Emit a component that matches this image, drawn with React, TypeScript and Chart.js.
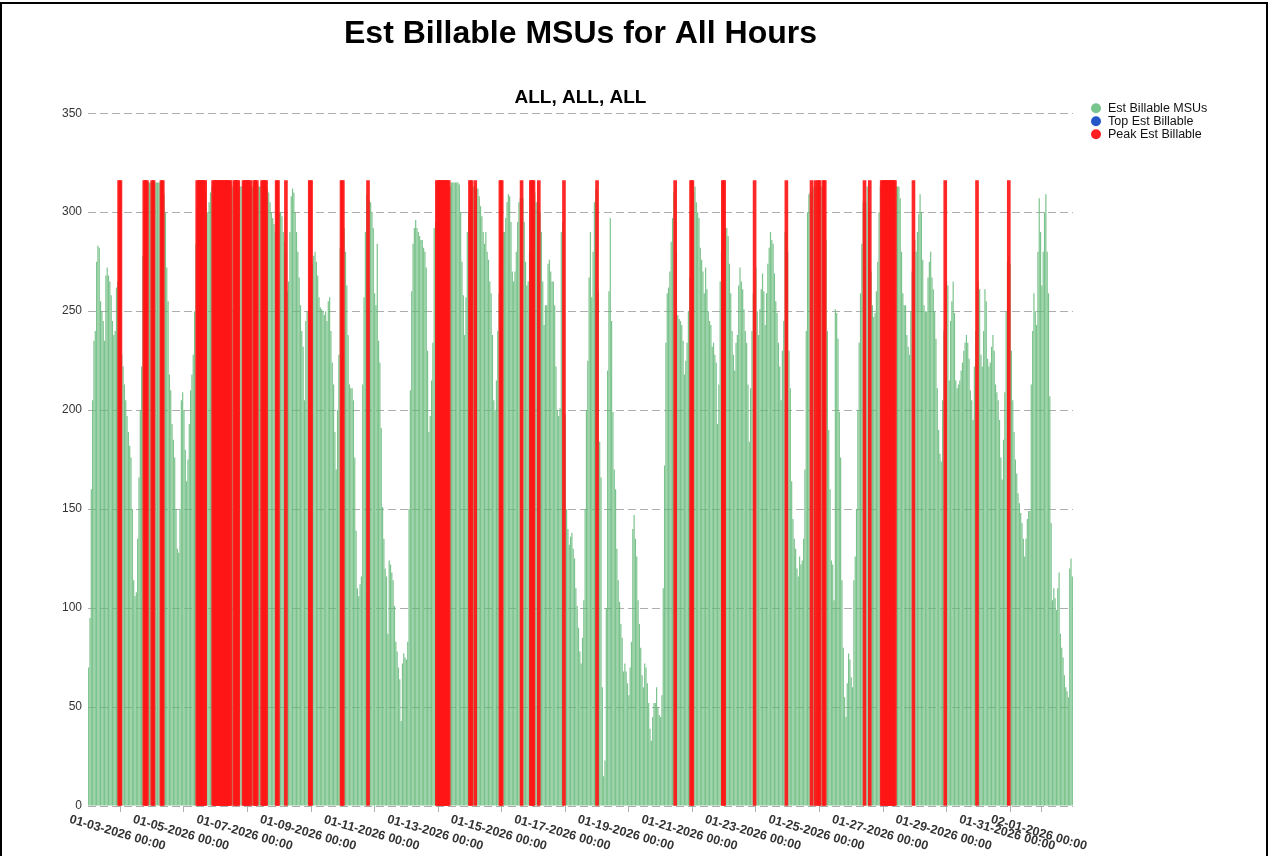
import React, { useEffect, useRef } from "react";
import { Chart, registerables } from "chart.js";

Chart.register(...registerables);

// ---- Data: hourly Est Billable MSUs, one array per day (00:00 .. 23:00) ----
const jan02 = [70, 95, 160, 205, 235, 240, 275, 283, 282, 255, 250, 245, 235, 268, 272, 268, 265, 258, 245, 238, 240, 262, 265, 290];
const jan03 = [270, 228, 222, 213, 205, 197, 189, 182, 176, 150, 114, 106, 108, 135, 166, 200, 222, 278, 300, 310, 313, 315, 315, 315];
const jan04 = [315, 315, 315, 315, 315, 315, 315, 313, 313, 309, 300, 272, 255, 218, 210, 193, 185, 176, 150, 130, 128, 150, 205, 209];
const jan05 = [200, 180, 164, 175, 193, 210, 218, 228, 250, 284, 300, 310, 313, 313, 313, 313, 310, 300, 300, 305, 310, 313, 313, 313];
const jan06 = [313, 313, 313, 313, 315, 313, 313, 313, 313, 313, 313, 313, 313, 313, 315, 315, 313, 313, 313, 313, 313, 313, 313, 313];
const jan07 = [313, 313, 313, 313, 313, 313, 313, 313, 313, 313, 313, 313, 313, 313, 313, 312, 310, 305, 300, 297, 294, 290, 295, 298];
const jan08 = [300, 300, 298, 290, 285, 280, 260, 265, 290, 308, 312, 310, 300, 290, 280, 267, 253, 240, 232, 205, 245, 250, 250, 260];
const jan09 = [265, 274, 278, 280, 275, 268, 257, 252, 251, 250, 248, 250, 245, 255, 257, 240, 224, 213, 189, 170, 200, 228, 282, 290];
const jan10 = [295, 292, 280, 263, 238, 213, 211, 211, 205, 176, 139, 110, 106, 112, 116, 213, 257, 290, 309, 306, 306, 305, 300, 292];
const jan11 = [259, 253, 284, 235, 224, 191, 151, 135, 120, 116, 87, 124, 122, 118, 114, 101, 83, 78, 70, 64, 43, 72, 77, 75];
const jan12 = [74, 83, 150, 210, 260, 284, 292, 296, 292, 290, 288, 286, 286, 282, 280, 272, 230, 189, 197, 215, 234, 292, 295, 300];
const jan13 = [313, 313, 313, 313, 313, 313, 313, 313, 313, 313, 315, 315, 315, 315, 315, 315, 314, 300, 275, 258, 238, 257, 290, 300];
const jan14 = [305, 310, 313, 313, 312, 312, 312, 308, 303, 298, 290, 284, 290, 280, 276, 265, 259, 238, 205, 200, 215, 240, 259, 275];
const jan15 = [285, 290, 290, 297, 305, 309, 308, 295, 270, 265, 270, 280, 295, 305, 307, 307, 307, 295, 275, 263, 265, 280, 290, 295];
const jan16 = [300, 310, 305, 305, 305, 300, 290, 265, 243, 253, 253, 274, 276, 270, 265, 265, 253, 222, 200, 197, 201, 290, 295, 300];
const jan17 = [198, 150, 140, 132, 136, 138, 130, 125, 110, 101, 90, 78, 72, 85, 104, 150, 200, 225, 267, 290, 257, 280, 305, 312];
const jan18 = [311, 260, 184, 166, 60, 15, 23, 100, 220, 260, 297, 245, 199, 170, 160, 130, 114, 103, 92, 85, 68, 72, 68, 62];
const jan19 = [56, 70, 83, 140, 147, 135, 126, 104, 92, 80, 66, 60, 72, 70, 62, 52, 39, 33, 45, 52, 52, 60, 50, 46];
const jan20 = [45, 56, 110, 172, 234, 259, 262, 270, 285, 297, 310, 312, 280, 248, 246, 245, 243, 235, 218, 225, 234, 250, 267, 300];
const jan21 = [310, 310, 313, 305, 300, 297, 282, 276, 270, 259, 272, 261, 250, 245, 243, 232, 234, 228, 224, 193, 213, 265, 280, 290];
const jan22 = [295, 292, 292, 288, 274, 259, 240, 228, 220, 234, 238, 263, 272, 265, 261, 251, 240, 234, 213, 184, 211, 240, 259, 265];
const jan23 = [272, 250, 238, 251, 261, 269, 260, 243, 259, 274, 282, 290, 286, 284, 269, 255, 249, 234, 222, 205, 230, 245, 290, 290];
const jan24 = [280, 230, 211, 164, 145, 135, 130, 120, 116, 126, 122, 124, 135, 170, 240, 300, 309, 310, 310, 312, 313, 313, 313, 313];
const jan25 = [313, 313, 313, 313, 300, 286, 240, 190, 160, 124, 122, 104, 251, 249, 236, 199, 176, 114, 80, 55, 45, 62, 77, 74];
const jan26 = [65, 60, 114, 126, 150, 200, 234, 259, 284, 305, 306, 305, 313, 313, 300, 270, 253, 247, 249, 260, 275, 300, 313, 313];
const jan27 = [313, 313, 313, 313, 313, 313, 313, 313, 313, 313, 313, 313, 313, 307, 280, 259, 253, 253, 238, 232, 228, 250, 270, 280];
const jan28 = [286, 280, 290, 299, 309, 300, 276, 253, 250, 250, 267, 275, 280, 267, 261, 250, 236, 211, 190, 178, 174, 205, 240, 262];
const jan29 = [265, 263, 215, 245, 255, 265, 249, 215, 211, 213, 215, 220, 224, 230, 234, 238, 234, 226, 210, 205, 195, 222, 240, 262];
const jan30 = [265, 261, 228, 222, 240, 261, 255, 226, 222, 224, 232, 238, 230, 213, 209, 205, 195, 176, 165, 185, 209, 250, 275, 278];
const jan31 = [274, 230, 205, 189, 175, 168, 158, 153, 148, 143, 135, 126, 135, 145, 149, 149, 213, 240, 259, 250, 243, 280, 307, 290];
const feb01 = [263, 280, 300, 309, 280, 259, 207, 143, 104, 110, 105, 99, 110, 118, 87, 80, 75, 66, 60, 58, 55, 120, 125, 116];

const hourlyMSUs = [
  ...jan02, ...jan03, ...jan04, ...jan05, ...jan06, ...jan07, ...jan08, ...jan09, ...jan10, ...jan11,
  ...jan12, ...jan13, ...jan14, ...jan15, ...jan16, ...jan17, ...jan18, ...jan19, ...jan20, ...jan21,
  ...jan22, ...jan23, ...jan24, ...jan25, ...jan26, ...jan27, ...jan28, ...jan29, ...jan30, ...jan31, ...feb01,
];

// Hours (index from 01-02-2026 00:00) flagged as Peak Est Billable
const peakHours = [
  23, 24, 42, 43, 44, 48, 49, 55, 56, 82, 83, 84, 85, 86, 87, 88,
  94, 95, 96, 97, 98, 99, 100, 101, 102, 103, 104, 105, 106, 107,
  110, 111, 112, 113, 117, 118, 119, 120, 121, 122, 125, 126, 127, 131, 132, 133, 134,
  142, 143, 149, 167, 168, 191, 192, 211,
  263, 264, 265, 266, 267, 268, 269, 270, 271, 272,
  288, 289, 292, 311, 312, 327, 334, 335, 336, 340, 359, 384, 443,
  455, 456, 479, 480, 503, 527, 546, 549, 551, 552, 555, 556, 586, 590,
  599, 600, 601, 602, 603, 604, 605, 606, 607, 608, 609, 623, 647, 671, 695,
];
const peakValue = 316;

// Top Est Billable: no values shown in this period
const topHours: number[] = [];
const topValues: number[] = [];

const xTickHours = [24, 72, 120, 168, 216, 264, 312, 360, 408, 456, 504, 552, 600, 648, 696, 720];
const xTickLabels = [
  "01-03-2026 00:00", "01-05-2026 00:00", "01-07-2026 00:00", "01-09-2026 00:00",
  "01-11-2026 00:00", "01-13-2026 00:00", "01-15-2026 00:00", "01-17-2026 00:00",
  "01-19-2026 00:00", "01-21-2026 00:00", "01-23-2026 00:00", "01-25-2026 00:00",
  "01-27-2026 00:00", "01-29-2026 00:00", "01-31-2026 00:00", "02-01-2026 00:00",
];

const seriesLabels = ["Est Billable MSUs", "Top Est Billable", "Peak Est Billable"];
const legendColors = ["#78c48e", "#2457c5", "#ff1f1f"];

const FONT = "'Liberation Sans', Arial, Helvetica, sans-serif";

const overlayPlugin = {
  id: "overlay",
  afterDraw(chart: any) {
    const { ctx, chartArea, scales } = chart;
    const xs = scales.x;
    ctx.save();
    // rotated x tick labels
    ctx.font = `bold 12.5px ${FONT}`;
    ctx.fillStyle = "#333";
    ctx.textAlign = "center";
    ctx.textBaseline = "middle";
    xTickHours.forEach((h, i) => {
      const px = xs.getPixelForValue(h);
      ctx.save();
      ctx.translate(px - 3, chartArea.bottom + 27);
      ctx.rotate((16 * Math.PI) / 180);
      ctx.fillText(xTickLabels[i], 0, 0);
      ctx.restore();
    });
    // legend
    ctx.font = `12.5px ${FONT}`;
    ctx.textAlign = "left";
    ctx.textBaseline = "middle";
    seriesLabels.forEach((lab, i) => {
      const cy = chartArea.top - 5 + i * 13;
      const cx = chartArea.right + 23;
      ctx.beginPath();
      ctx.arc(cx, cy, 5, 0, Math.PI * 2);
      ctx.fillStyle = legendColors[i];
      ctx.fill();
      ctx.fillStyle = "#111";
      ctx.fillText(lab, cx + 12, cy + 0.5);
    });
    ctx.restore();
  },
};

export default function App() {
  const canvasRef = useRef<HTMLCanvasElement | null>(null);

  useEffect(() => {
    const canvas = canvasRef.current;
    if (!canvas) return;
    Chart.defaults.font.family = FONT;
    const greenData = hourlyMSUs.map((v, i) => ({ x: i, y: v }));
    const redData = peakHours.map((h) => ({ x: h, y: peakValue }));
    const blueData = topHours.map((h, i) => ({ x: h, y: topValues[i] }));

    const chart = new Chart(canvas, {
      type: "bar",
      data: {
        datasets: [
          {
            label: seriesLabels[0],
            data: greenData,
            backgroundColor: "rgba(100,185,120,0.85)",
            borderWidth: 0,
            barPercentage: 0.9,
            categoryPercentage: 1,
            grouped: false,
            order: 2,
          },
          {
            label: seriesLabels[1],
            data: blueData,
            backgroundColor: "#2457c5",
            borderWidth: 0,
            barThickness: 3,
            grouped: false,
            order: 1,
          },
          {
            label: seriesLabels[2],
            data: redData,
            backgroundColor: "rgba(255,22,22,0.92)",
            borderWidth: 0,
            barThickness: 3,
            grouped: false,
            order: 0,
          },
        ],
      } as any,
      options: {
        responsive: false,
        maintainAspectRatio: false,
        animation: false,
        layout: { padding: { left: 0, right: 197, top: 0, bottom: 0 } },
        plugins: {
          legend: { display: false },
          tooltip: { enabled: false },
          title: {
            display: true,
            text: "Est Billable MSUs for All Hours",
            fullSize: false,
            color: "#000",
            font: { family: FONT, size: 32, weight: "bold" },
            padding: { top: 15, bottom: 0 },
          },
          subtitle: {
            display: true,
            text: "ALL, ALL, ALL",
            fullSize: false,
            color: "#000",
            font: { family: FONT, size: 19, weight: "bold" },
            padding: { top: 33, bottom: 4 },
          },
        },
        scales: {
          x: {
            type: "linear",
            min: -0.5,
            max: 743.5,
            offset: false,
            afterBuildTicks: (s: any) => {
              s.ticks = xTickHours.map((v) => ({ value: v }));
            },
            afterFit: (s: any) => {
              s.height = 94;
            },
            ticks: { display: false },
            grid: {
              offset: false,
              drawOnChartArea: false,
              drawTicks: true,
              tickLength: 6,
              tickColor: "#b0b0b0",
            },
            border: { display: false },
          },
          y: {
            min: 0,
            max: 350,
            afterFit: (s: any) => {
              s.width = 88;
            },
            ticks: {
              stepSize: 50,
              color: "#333",
              padding: 6,
              font: { family: FONT, size: 12 },
            },
            grid: { color: "#adadad", lineWidth: 1, drawTicks: false },
            border: { display: false, dash: [8, 4] },
          },
        },
      } as any,
      plugins: [overlayPlugin],
    });
    return () => chart.destroy();
  }, []);

  return (
    <div
      style={{
        position: "absolute",
        left: 0,
        top: 0,
        width: 1270,
        height: 856,
        overflow: "hidden",
        background: "#fff",
      }}
    >
      <canvas
        ref={canvasRef}
        width={1270}
        height={900}
        style={{ position: "absolute", left: 0, top: 0, width: 1270, height: 900 }}
      />
      <div
        style={{
          position: "absolute",
          left: 0,
          top: 2,
          width: 1268,
          height: 960,
          border: "2px solid #000",
          boxSizing: "border-box",
          pointerEvents: "none",
        }}
      />
    </div>
  );
}
